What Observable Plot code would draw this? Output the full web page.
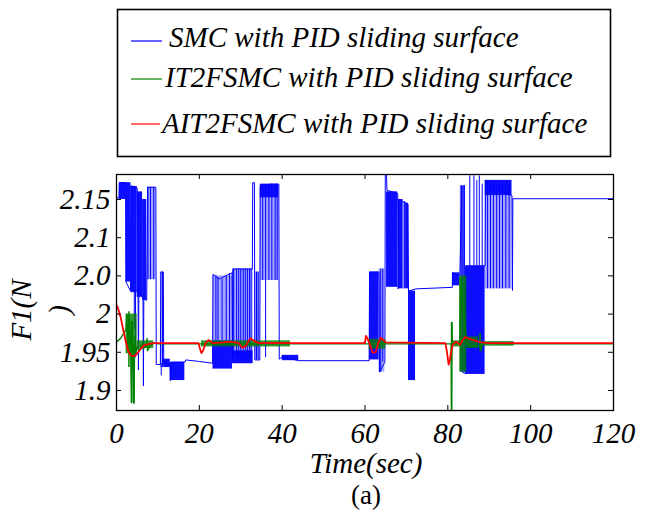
<!DOCTYPE html>
<html><head><meta charset="utf-8">
<script src="https://cdn.jsdelivr.net/npm/d3@7"></script>
<script src="https://cdn.jsdelivr.net/npm/@observablehq/plot@0.6"></script>
<style>
body{margin:0;background:#fff;}
#wrap{position:relative;width:646px;height:510px;overflow:hidden;background:#fff;}
#legend{position:absolute;left:0;top:0;}
#chart{position:absolute;left:0;top:160px;}
</style></head>
<body><div id="wrap"><div id="legend"></div><div id="chart"></div></div>
<script>
// ---------- data ----------
const legendLabels = ["SMC with PID sliding surface", "IT2FSMC with PID sliding surface", "AIT2FSMC with PID sliding surface"];
const seriesColors = ["#0000ff", "#008000", "#ff0000"];

const xTickVals = [0, 20, 40, 60, 80, 100, 120];
const yTickVals = [2.15, 2.1, 2.05, 2, 1.95, 1.9];
const yTickLabels = ["2.15", "2.1", "2.0", "2", "1.95", "1.9"];

// SMC: main trace [t, F1]
const smcLine = [[0,2.152],[0.6,2.152],[0.7,2.172],[2.2,2.172],[2.3,2.042],[3.4,2.03],[3.5,2.168],[5.0,2.165],[5.2,2.03],[5.3,1.927],[5.4,2.03],[6.4,2.02],[6.5,1.906],[6.6,2.02],[7.3,2.018],[7.5,2.166],[9.5,2.166],[9.6,1.934],[10.6,1.934],[10.7,2.055],[11.3,2.055],[11.4,1.935],[12.9,1.935],[13.0,1.913],[13.2,1.937],[16.5,1.937],[16.7,1.940],[20,1.938],[23.2,1.9357],[23.3,2.052],[24.8,2.046],[27.9,2.054],[28.0,1.945],[28.1,2.059],[32.8,2.059],[32.9,2.172],[33.3,2.172],[33.4,1.94],[34.6,1.94],[34.7,2.166],[37,2.17],[39.2,2.17],[39.3,1.941],[40,1.944],[44,1.939],[61,1.939],[61.1,2.055],[63.4,2.055],[63.5,1.924],[64.8,1.937],[64.9,2.183],[65.2,2.183],[65.3,2.162],[67.9,2.158],[68.0,2.033],[68.1,2.15],[70.4,2.144],[70.5,2.03],[72.3,2.033],[81.1,2.035],[81.2,2.054],[82.9,2.05],[83.4,2.168],[83.5,1.924],[84.3,1.922],[84.4,2.063],[89.0,2.063],[89.1,2.174],[95.5,2.155],[95.6,2.031],[95.7,2.151],[120,2.151]];
// SMC dense chattering bands [t0, t1, low, high]
const smcBands = [[0.7,2.3,2.150,2.172],[2.3,3.5,2.042,2.172],[3.5,5.0,2.028,2.167],[5.0,6.3,2.022,2.160],[6.3,7.3,2.018,2.150],[11.4,13.0,1.930,1.941],[13.0,16.5,1.913,1.937],[23.3,28.0,1.928,1.965],[28.0,33.0,1.935,1.952],[34.7,39.2,2.152,2.170],[40.0,44.0,1.939,1.946],[61.1,63.4,1.940,2.055],[65.2,67.9,2.035,2.160],[68.1,69.2,2.033,2.150],[69.8,70.5,2.033,2.145],[70.5,72.2,1.913,2.030],[81.1,82.9,2.037,2.054],[84.3,89.0,1.921,2.063],[89.0,95.5,2.155,2.175]];
// SMC sparse chattering bands [t0, t1, low, high]
const smcSparse = [[7.5,9.5,2.045,2.166],[10.6,11.4,1.930,2.055],[23.3,28.0,1.965,2.050],[28.0,33.0,1.952,2.059],[33.4,34.6,1.940,2.055],[34.7,39.2,2.044,2.152],[63.4,64.8,1.924,2.059],[69.2,69.8,2.033,2.147],[83.0,84.3,1.924,2.168],[89.0,95.5,2.033,2.155]];
// SMC single switching spikes [t, low, high]
const smcSpikes = [[4.3,1.98,2.03],[4.6,1.943,2.03],[7.6,2.045,2.166],[8.2,2.045,2.166],[9.0,2.045,2.166],[10.8,1.919,1.935],[11.1,1.93,2.055],[24.0,1.965,2.05],[24.5,1.965,2.048],[25.5,1.965,2.046],[26.5,1.965,2.05],[27.3,1.965,2.053],[28.3,1.94,2.059],[29.0,1.94,2.059],[29.5,1.94,2.059],[30.0,1.94,2.059],[30.6,1.94,2.059],[31.1,1.94,2.059],[31.6,1.94,2.059],[32.1,1.94,2.059],[32.5,1.94,2.059],[33.8,1.94,2.055],[34.2,1.94,2.055],[35.3,2.044,2.17],[36.0,1.943,2.17],[36.8,2.044,2.17],[37.5,2.044,2.17],[38.3,2.044,2.17],[38.8,2.044,2.17],[63.8,1.924,2.059],[64.3,1.937,2.059],[69.5,2.033,2.147],[83.2,1.924,2.168],[83.7,1.924,2.168],[84.0,1.924,2.168],[85.3,2.063,2.181],[86.3,2.063,2.181],[87.0,2.063,2.175],[87.6,2.063,2.181],[88.3,2.063,2.17],[89.6,2.033,2.174],[90.3,2.033,2.17],[91.0,2.033,2.17],[91.8,2.033,2.17],[92.5,2.033,2.17],[93.2,2.033,2.17],[94.0,2.033,2.17],[94.8,2.033,2.17]];

// IT2FSMC
const it2Line = [[0,1.963],[1.1,1.969],[2.3,1.98],[2.5,2.0],[2.8,1.95],[3.1,1.998],[3.4,1.96],[3.6,1.884],[3.8,1.99],[4.0,1.95],[4.2,1.883],[4.4,1.97],[4.7,1.95],[5.0,1.957],[5.5,1.951],[6.0,1.96],[6.5,1.955],[7.3,1.958],[7.4,1.968],[7.5,1.952],[8.0,1.958],[9.0,1.962],[10,1.961],[22,1.961],[42,1.961],[60.5,1.961],[65,1.961],[80.8,1.961],[80.9,1.874],[81.0,1.989],[81.1,1.961],[82.9,1.961],[83.0,2.048],[84.6,1.96],[87.6,1.958],[87.8,1.974],[88.0,1.952],[88.3,1.962],[95,1.961],[120,1.961]];
const it2Bands = [[2.3,5.0,1.948,2.0],[5.0,9.0,1.955,1.965],[20.5,42,1.957,1.965],[61,65,1.954,1.967],[81.2,82.9,1.957,1.965],[83.0,84.6,1.924,2.05],[84.6,87.4,1.955,1.97],[88,96,1.958,1.964]];
const it2Spikes = [[3.0,1.93,2.003],[3.7,1.884,1.99],[4.2,1.883,1.96],[80.9,1.874,1.989],[83.0,1.925,2.048],[87.8,1.952,1.974]];

// AIT2FSMC
const ait2Line = [[0,2.012],[0.5,2.005],[1,1.996],[1.6,1.98],[2.2,1.965],[2.8,1.952],[3.4,1.946],[4.0,1.945],[4.6,1.946],[5.5,1.952],[6.6,1.959],[8,1.961],[9,1.962],[19.8,1.962],[20.1,1.956],[20.5,1.949],[20.9,1.952],[21.5,1.962],[22.2,1.966],[22.8,1.964],[23.2,1.962],[25.8,1.963],[27.4,1.964],[29.5,1.962],[30.4,1.956],[31.2,1.958],[32.0,1.966],[32.4,1.968],[33.2,1.965],[34.3,1.962],[60,1.962],[60.2,1.9716],[60.6,1.968],[61.2,1.96],[61.8,1.9497],[62.6,1.95],[63.2,1.962],[63.8,1.969],[65,1.963],[79.4,1.962],[79.8,1.95],[80.2,1.934],[80.5,1.94],[80.7,1.948],[81.2,1.96],[82,1.964],[82.9,1.96],[83.5,1.965],[84.2,1.970],[85,1.968],[86.2,1.966],[88,1.963],[89.9,1.962],[120,1.962]];

// ---------- chart ----------
const W = 646, H = 350, mT = 14, mR = 33, mB = 100, mL = 116;
const fw = W - mL - mR, fh = H - mT - mB;
const serif = "'Liberation Serif','Times New Roman',serif";
const [cB, cG, cR] = seriesColors;
const band = (data, color, opacity) => Plot.rect(data, {x1: d => d[0], x2: d => d[1], y1: d => d[2], y2: d => d[3], fill: color, fillOpacity: opacity, clip: true});
const spikes = (data, color, w) => Plot.ruleX(data, {x: d => d[0], y1: d => d[1], y2: d => d[2], stroke: color, strokeWidth: w, clip: true});

const chart = Plot.plot({
  width: W, height: H,
  marginTop: mT, marginRight: mR, marginBottom: mB, marginLeft: mL,
  x: {domain: [0, 120]},
  y: {domain: [1.8738, 2.1827]},
  style: {fontFamily: serif, fontStyle: "italic", color: "black", background: "white"},
  marks: [
    band(smcSparse, cB, 0.35),
    band(smcBands, cB, 0.95),
    spikes(smcSpikes, cB, 1),
    Plot.line(smcLine, {x: d => d[0], y: d => d[1], stroke: cB, strokeWidth: 1, clip: true}),
    band(it2Bands, cG, 0.8),
    spikes(it2Spikes, cG, 1.5),
    Plot.line(it2Line, {x: d => d[0], y: d => d[1], stroke: cG, strokeWidth: 1.4, clip: true}),
    Plot.line(ait2Line, {x: d => d[0], y: d => d[1], stroke: cR, strokeWidth: 1.8, clip: true}),
    // inward ticks on all four sides
    Plot.ruleX(xTickVals, {x: d => d, insetTop: fh - 5, stroke: "black"}),
    Plot.ruleX(xTickVals, {x: d => d, insetBottom: fh - 5, stroke: "black"}),
    Plot.ruleY(yTickVals, {y: d => d, insetRight: fw - 5, stroke: "black"}),
    Plot.ruleY(yTickVals, {y: d => d, insetLeft: fw - 5, stroke: "black"}),
    Plot.frame({stroke: "black", strokeWidth: 1.3}),
    Plot.axisX({ticks: xTickVals, tickSize: 0, tickPadding: 12, fontSize: 29, label: null, tickFormat: d => String(d)}),
    Plot.axisY({ticks: yTickVals, tickSize: 0, tickPadding: 6, fontSize: 29, label: null,
      tickFormat: d => yTickLabels[yTickVals.findIndex(v => Math.abs(v - d) < 1e-9)]})
  ]
});
document.getElementById("chart").appendChild(chart);

const svg = d3.select(chart);
// y label (wrapped, as in the original)
const yl = svg.append("text").attr("transform", "translate(31,150) rotate(-90)")
  .attr("font-family", serif).attr("font-style", "italic").attr("font-size", 29).attr("fill", "black");
yl.append("tspan").attr("x", 0).attr("y", 0).text("F1(N");
yl.append("tspan").attr("x", 0).attr("y", 38).text(")");
// x label and caption
svg.append("text").attr("x", 366).attr("y", 313).attr("text-anchor", "middle")
  .attr("font-family", serif).attr("font-style", "italic").attr("font-size", 29).attr("fill", "black").text("Time(sec)");
svg.append("text").attr("x", 366).attr("y", 344).attr("text-anchor", "middle")
  .attr("font-family", serif).attr("font-style", "normal").attr("font-size", 27).attr("fill", "black").text("(a)");

// ---------- legend ----------
const lg = d3.select("#legend").append("svg").attr("width", 646).attr("height", 160);
lg.append("rect").attr("x", 117.5).attr("y", 9.5).attr("width", 493).attr("height", 147)
  .attr("fill", "white").attr("stroke", "black").attr("stroke-width", 1.6);
const rowY = [41, 79, 124], baseY = [47, 87, 133], textX = [169, 165, 162];
legendLabels.forEach((lab, i) => {
  lg.append("line").attr("x1", 131).attr("x2", Math.min(162, textX[i] - 2)).attr("y1", rowY[i]).attr("y2", rowY[i])
    .attr("stroke", seriesColors[i]).attr("stroke-width", 1.2);
  lg.append("text").attr("x", textX[i]).attr("y", baseY[i]).attr("font-family", serif)
    .attr("font-style", "italic").attr("font-size", 29).attr("fill", "black").text(lab);
});
</script>
</body></html>
